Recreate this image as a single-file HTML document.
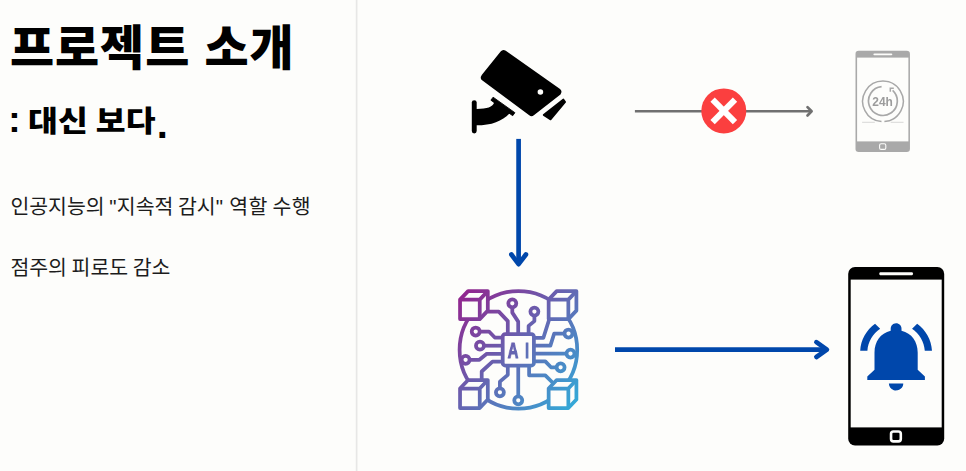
<!DOCTYPE html>
<html lang="ko"><head><meta charset="utf-8">
<title>프로젝트 소개</title>
<style>
html,body{margin:0;padding:0;}
body{width:966px;height:471px;overflow:hidden;background:#fdfdfb;position:relative;font-family:"Liberation Sans","Noto Sans CJK KR",sans-serif;color:#111;}
.divider{position:absolute;left:355px;top:0;width:3px;height:471px;background:linear-gradient(to right,#f8f8f6 0,#f8f8f6 1px,#e7e7e6 1px,#e7e7e6 2px,#f3f3f1 2px,#f3f3f1 3px);}
h1{position:absolute;left:10px;top:9px;margin:0;font-weight:900;font-size:48px;line-height:80px;letter-spacing:0.9px;white-space:nowrap;color:#000;}
h2{position:absolute;left:0;top:92px;margin:0;font-weight:900;font-size:30px;line-height:60px;white-space:nowrap;color:#000;width:340px;height:60px;}
h2 span{position:absolute;top:0;line-height:60px;}
h2 .c{left:8.2px;top:-2px;font-size:37px;}
h2 .m{left:28.2px;letter-spacing:0.2px;word-spacing:-1.4px;transform:scale(1.08,0.97);transform-origin:0 50%;}
h2 .d{left:156.7px;top:1.5px;font-size:40px;}
p{position:absolute;left:10.4px;margin:0;font-size:20.5px;word-spacing:-1.1px;line-height:30px;white-space:nowrap;color:#1c1c1c;}
p .q{letter-spacing:0.2px;}
p .q2{letter-spacing:1.7px;}
p .t{letter-spacing:0.3px;}
#p1{top:192px;}
#p2{top:253px;}
svg{position:absolute;left:0;top:0;will-change:transform;}
</style></head><body>
<div class="divider"></div>
<h1>프로젝트 소개</h1>
<h2><span class="c">:</span> <span class="m">대신 보다</span><span class="d">.</span></h2>
<p id="p1">인공지능의 <span class="q">"</span>지속적 감시<span class="q q2">"</span> <span class="t">역할 수행</span></p>
<p id="p2">점주의 피로도 감소</p>

<svg width="966" height="471" viewBox="0 0 966 471">
<defs>
<linearGradient id="ag" gradientUnits="userSpaceOnUse" x1="460" y1="298" x2="584.6" y2="412.2">
<stop offset="0" stop-color="#91278F"/><stop offset="1" stop-color="#2DB3DD"/>
</linearGradient>
<linearGradient id="ag2" gradientUnits="userSpaceOnUse" x1="676.5" y1="298" x2="859.7" y2="412.2">
<stop offset="0" stop-color="#91278F"/><stop offset="1" stop-color="#2DB3DD"/>
</linearGradient>
</defs>

<!-- CCTV camera -->
<g id="cam" fill="#000" stroke="none">
<polygon points="503.6,53.9 557.5,91.95 531.5,112.3 484.7,77.5" stroke="#000" stroke-width="7.6" stroke-linejoin="round"/>
<circle cx="540.4" cy="91.95" r="2.8" fill="#fdfdfb"/>
<polygon points="563.4,99.4 565.2,101.9 550.6,119.5 543.6,115" stroke="#000" stroke-width="1.6" stroke-linejoin="round"/>
<polygon points="493.1,97.2 514.9,112.7 512.7,115.7 490.9,100.2" stroke="#000" stroke-width="0.9" stroke-linejoin="round"/>
<path d="M476,108.9 C487,109 492.5,107 494,103 L493,99.5 L511,112.5 L509.5,113.4 C502,121 492,125.3 476,125.3 Z"/>
<line x1="474.25" y1="102.6" x2="474.25" y2="131" stroke="#000" stroke-width="4.9" stroke-linecap="round"/>
</g>

<!-- blue arrows -->
<g fill="none" stroke="#0047AB" stroke-width="4.7">
<line x1="518.6" y1="138.9" x2="518.6" y2="263"/>
<polyline points="511.4,254.5 518.6,264.2 525.9,254.5" stroke-linecap="round" stroke-linejoin="round"/>
<line x1="615" y1="349.6" x2="826" y2="349.6"/>
<polyline points="816.4,342.2 826.9,349.6 816.4,357" stroke-linecap="round" stroke-linejoin="round"/>
</g>

<!-- gray arrow + X -->
<g fill="none" stroke="#707070" stroke-width="2.6">
<line x1="634.9" y1="111.3" x2="811.3" y2="111.3"/>
<polyline points="807.5,107.1 811.6,111.3 807.5,115.5" stroke-width="2.7" stroke-linecap="round" stroke-linejoin="round"/>
</g>
<circle cx="723.8" cy="110.9" r="22.5" fill="#fb3f3f"/>
<g stroke="#fff" stroke-width="6.1" fill="none">
<line x1="712.6" y1="99.7" x2="735" y2="122.1"/>
<line x1="735" y1="99.7" x2="712.6" y2="122.1"/>
</g>

<!-- gray phone 24h -->
<g id="gphone">
<rect x="855.5" y="50.8" width="54.45" height="101.1" rx="3.2" fill="#a9a9a9"/>
<rect x="857.1" y="57.6" width="51.3" height="83.8" fill="#fdfdfb"/>
<rect x="873.4" y="53.4" width="18.9" height="1.9" rx="0.95" fill="#fdfdfb"/>
<rect x="879.6" y="143.8" width="6.2" height="5.6" rx="1.5" fill="none" stroke="#fdfdfb" stroke-width="1.1"/>
<g fill="none" stroke="#a8a8a8">
<path d="M884.4,121.6 A20.3,20.3 0 1 0 881.5,121.6" stroke-width="1.5"/>
<path d="M881.6,86.7 A14.4,14.4 0 1 0 892.6,90.4" stroke-width="1.7"/>
<polyline points="893.8,88.3 890.3,88.3 890.3,91.8" stroke-width="1.5"/>
<line x1="862.1" y1="122.3" x2="874.8" y2="122.3" stroke-width="0.6" stroke="#bdbdbd"/>
<line x1="890.7" y1="122.3" x2="903.5" y2="122.3" stroke-width="0.6" stroke="#bdbdbd"/>
</g>
<text x="882.6" y="106" text-anchor="middle" font-family="Liberation Sans, sans-serif" font-weight="700" font-size="12.4" fill="#9c9c9c" textLength="20.6" lengthAdjust="spacingAndGlyphs">24h</text>
</g>

<!-- black phone with bell -->
<g id="bphone">
<rect x="848.2" y="267.1" width="96" height="178.4" rx="6.8" fill="#000"/>
<rect x="850.7" y="279.6" width="91" height="147.8" fill="#fdfdfb"/>
<rect x="879.4" y="272.2" width="33.5" height="3" rx="1" fill="#fdfdfb"/>
<rect x="891.05" y="431.45" width="9.75" height="9.95" rx="2.4" fill="none" stroke="#fdfdfb" stroke-width="2.6"/>
<path transform="translate(852.9,314.7) scale(3.6,3.44)" fill="#0047AB" d="M7.58 4.08L6.15 2.65C3.75 4.48 2.17 7.3 2.03 10.5h2c.15-2.65 1.51-4.97 3.55-6.42zm12.39 6.42h2c-.15-3.2-1.73-6.02-4.12-7.85l-1.42 1.43c2.02 1.45 3.39 3.77 3.54 6.42zM18 11c0-3.07-1.64-5.64-4.5-6.32V4c0-.83-.67-1.5-1.5-1.5s-1.5.67-1.5 1.5v.68C7.63 5.36 6 7.92 6 11v5l-2 2v1h16v-1l-2-2v-5zm-6 11c.14 0 .27-.01.4-.04.65-.14 1.180-.58 1.440-1.180.1-.24.15-.5.15-.78h-4c.01 1.100.9 2 2.010 2z"/>
</g>

<!-- AI icon -->
<g id="ai" fill="none" stroke="url(#ag)" stroke-width="3.75" stroke-linejoin="round" stroke-linecap="butt">
<circle cx="518.4" cy="349.85" r="58.8"/>
<!-- traces -->
<polyline points="487.8,311.6 498.8,311.6 507.8,321.1 507.8,334"/>
<polyline points="512.3,307.3 512.3,312.6 518.2,321.6 518.2,334"/>
<polyline points="534.4,315.6 534.4,321.1 528.6,325.9 528.6,334"/>
<polyline points="499.9,388.3 499.9,381.7 507.8,374.8 507.8,365.5"/>
<polyline points="518.25,396.3 518.25,365.5"/>
<polyline points="529.1,365.5 529.1,375.3 545.3,375.3 553,383"/>
<polyline points="479.7,331.5 489,331.5 494.8,337.5 502.7,337.5"/>
<polyline points="483.95,345.7 502.7,345.7"/>
<polyline points="469.6,359.8 479.4,359.8 486.8,353.8 502.7,353.8"/>
<polyline points="481.7,380 481.7,371.5 492.5,361.7 502.7,361.7"/>
<polyline points="549.4,318.8 543.4,337.8 533.9,337.8"/>
<polyline points="564.5,333.5 554.2,333.5 550.4,345.6 533.9,345.6"/>
<polyline points="566.5,353.6 533.9,353.6"/>
<polyline points="556.6,367.3 551,367.3 545.3,361.4 533.9,361.4"/>
<!-- rings -->
<g fill="#fdfdfb">
<circle cx="512.3" cy="303.3" r="4.0"/>
<circle cx="534.4" cy="311.6" r="4.0"/>
<circle cx="475.7" cy="331.5" r="4.0"/>
<circle cx="479.95" cy="345.7" r="4.0"/>
<circle cx="465.6" cy="359.8" r="4.0"/>
<circle cx="499.9" cy="392.3" r="4.0"/>
<circle cx="518.25" cy="400.3" r="4.0"/>
<circle cx="568.5" cy="333.5" r="4.0"/>
<circle cx="570.5" cy="353.6" r="4.0"/>
<circle cx="560.6" cy="367.3" r="4.0"/>
<!-- chip -->
<rect x="502.7" y="334" width="31.2" height="31.5" rx="2.6"/>
</g>
<!-- cubes -->
<g fill="#fdfdfb">
<path d="M460.05,299.60 L468.10,291.10 L487.80,291.10 L487.80,310.60 L479.75,319.10 L460.05,319.10 Z"/>
<path d="M460.05,299.60 L479.75,299.60 L479.75,319.10 M479.75,299.60 L487.80,291.10" fill="none"/>
<path d="M548.65,299.60 L556.70,291.10 L576.40,291.10 L576.40,310.60 L568.35,319.10 L548.65,319.10 Z"/>
<path d="M548.65,299.60 L568.35,299.60 L568.35,319.10 M568.35,299.60 L576.40,291.10" fill="none"/>
<path d="M460.05,388.50 L468.10,380.00 L487.80,380.00 L487.80,399.50 L479.75,408.00 L460.05,408.00 Z"/>
<path d="M460.05,388.50 L479.75,388.50 L479.75,408.00 M479.75,388.50 L487.80,380.00" fill="none"/>
<path d="M548.65,388.50 L556.70,380.00 L576.40,380.00 L576.40,399.50 L568.35,408.00 L548.65,408.00 Z"/>
<path d="M548.65,388.50 L568.35,388.50 L568.35,408.00 M568.35,388.50 L576.40,380.00" fill="none"/>
</g>
</g>
<text transform="scale(0.68,1)" x="746.6 771.9" y="357.6" font-family="Liberation Sans, sans-serif" font-weight="700" font-size="22" fill="url(#ag2)" stroke="url(#ag2)" stroke-width="1" stroke-linejoin="round">AI</text>
</svg>
</body></html>
